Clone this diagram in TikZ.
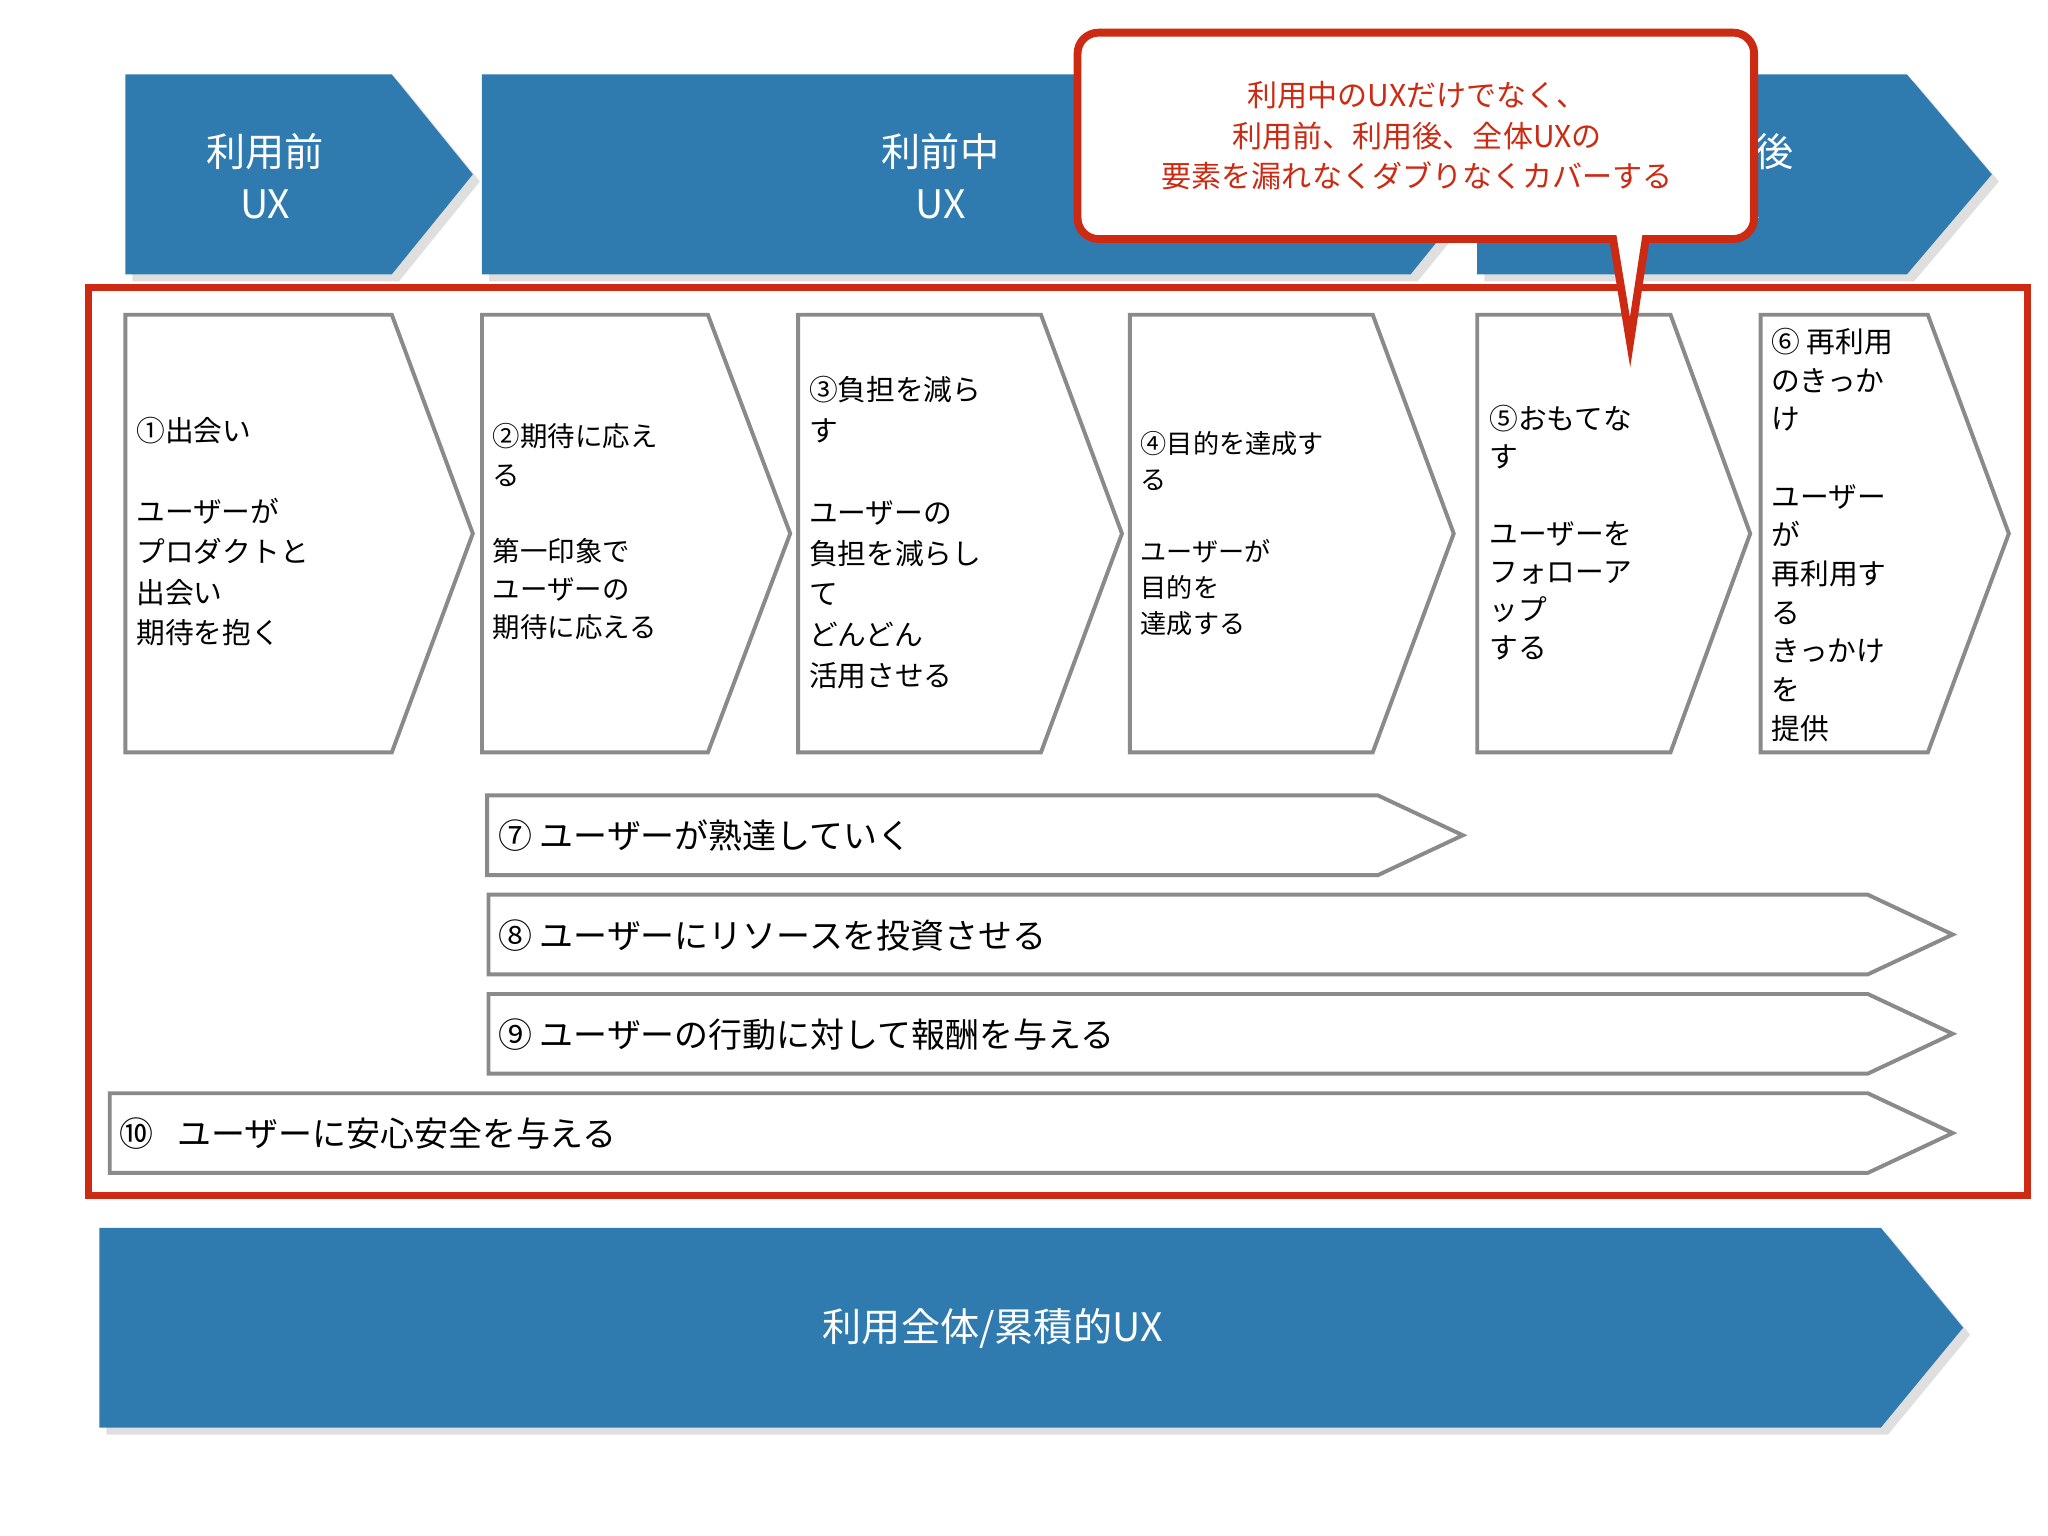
\documentclass[tikz,border=0pt]{standalone}
\usepackage{fontspec}
\usetikzlibrary{shadows}
\setmainfont{Noto Sans CJK JP}
\definecolor{ublue}{HTML}{2F7BB0}
\definecolor{ured}{HTML}{CC2A12}
\definecolor{ugray}{HTML}{8A8A8A}
\newcommand\fs[1]{\fontsize{#1}{#1}\selectfont}
\newcommand\pent[6]{\path[#6] (#1,#4) -- (#2,#4) -- (#3,{(#4+#5)/2}) -- (#2,#5) -- (#1,#5) -- cycle;}
\begin{document}
\begin{tikzpicture}[x=0.5pt,y=-0.5pt,
  bluearrow/.style={fill=ublue,draw=none,drop shadow={opacity=0.25}},
  stepshape/.style={fill=white,draw=ugray,line width=1.5pt},
  steptext/.style={anchor=north west,inner sep=0pt,align=left,text=black},
  bartext/.style={anchor=west,inner sep=0pt,text=black,font=\fs{13}},
  toptext/.style={align=center,text=white,font={\fontsize{15}{20}\selectfont}}]
\useasboundingbox[fill=white] (0,0) rectangle (1568,1176);
% top arrows
\pent{96}{300}{362}{57}{210}{bluearrow}
\pent{369}{1080}{1142}{57}{210}{bluearrow}
\pent{1131}{1460}{1525}{57}{210}{bluearrow}
\node[toptext] (t1) at (203,135) {利用前\\UX};
\node[toptext] (t2) at (720,135) {利前中\\UX};
\node[toptext] (t3) at (1328,135) {利用後\\UX};
% bottom arrow
\pent{76}{1440}{1503}{940}{1093}{bluearrow}
\node[text=white,font=\fs{15}] (t4) at (760,1017) {利用全体/累積的UX};
% red frame
\draw[ured,line width=2.6pt] (68,220) rectangle (1552,915);
% steps
\pent{96}{300}{362}{241}{576}{stepshape}
\pent{369}{542}{605}{241}{576}{stepshape}
\pent{611}{797}{859}{241}{576}{stepshape}
\pent{865}{1051}{1113}{241}{576}{stepshape}
\pent{1131}{1279}{1340}{241}{576}{stepshape}
\pent{1348}{1476}{1538}{241}{576}{stepshape}
\node[steptext,font={\fontsize{11}{15.5}\selectfont}] (s1) at (104,319) {①出会い\\~\\ユーザーが\\プロダクトと\\出会い\\期待を抱く};
\node[steptext,font={\fontsize{10.5}{14.6}\selectfont}] (s2) at (377,324) {②期待に応え\\る\\~\\第一印象で\\ユーザーの\\期待に応える};
\node[steptext,font={\fontsize{11}{15.6}\selectfont}] (s3) at (619,288) {③負担を減ら\\す\\~\\ユーザーの\\負担を減らし\\て\\どんどん\\活用させる};
\node[steptext,font={\fontsize{10}{13.8}\selectfont}] (s4) at (873,330) {④目的を達成す\\る\\~\\ユーザーが\\目的を\\達成する};
\node[steptext,font={\fontsize{11}{14.6}\selectfont}] (s5) at (1140,310) {⑤おもてな\\す\\~\\ユーザーを\\フォローア\\ップ\\する};
\node[steptext,font={\fontsize{11}{14.8}\selectfont}] (s6) at (1356,251) {⑥ 再利用\\のきっか\\け\\~\\ユーザー\\が\\再利用す\\る\\きっかけ\\を\\提供};
% bars
\pent{373}{1055}{1120}{609}{670}{stepshape}
\pent{374}{1430}{1495}{685}{746}{stepshape}
\pent{374}{1430}{1495}{761}{822}{stepshape}
\pent{84}{1430}{1495}{837}{898}{stepshape}
\node[bartext] (b7) at (381,640) {⑦ ユーザーが熟達していく};
\node[bartext] (b8) at (381,716) {⑧ ユーザーにリソースを投資させる};
\node[bartext] (b9) at (381,792) {⑨ ユーザーの行動に対して報酬を与える};
\node[bartext] (b10) at (91,868) {⑩\hspace{0.7em}ユーザーに安心安全を与える};
% callout
\draw[ured,line width=3pt,fill=white] (825,104) [rounded corners=8pt] -- (825,25) -- (1343,25) -- (1343,183) [sharp corners] -- (1260,183) -- (1248,262) -- (1235,183) [rounded corners=8pt] -- (825,183) -- cycle;
\node[align=center,text=ured,font={\fontsize{11.5}{15.5}\selectfont}] (c) at (1085,104) {利用中のUXだけでなく、\\利用前、利用後、全体UXの\\要素を漏れなくダブりなくカバーする};
\end{tikzpicture}
\end{document}
